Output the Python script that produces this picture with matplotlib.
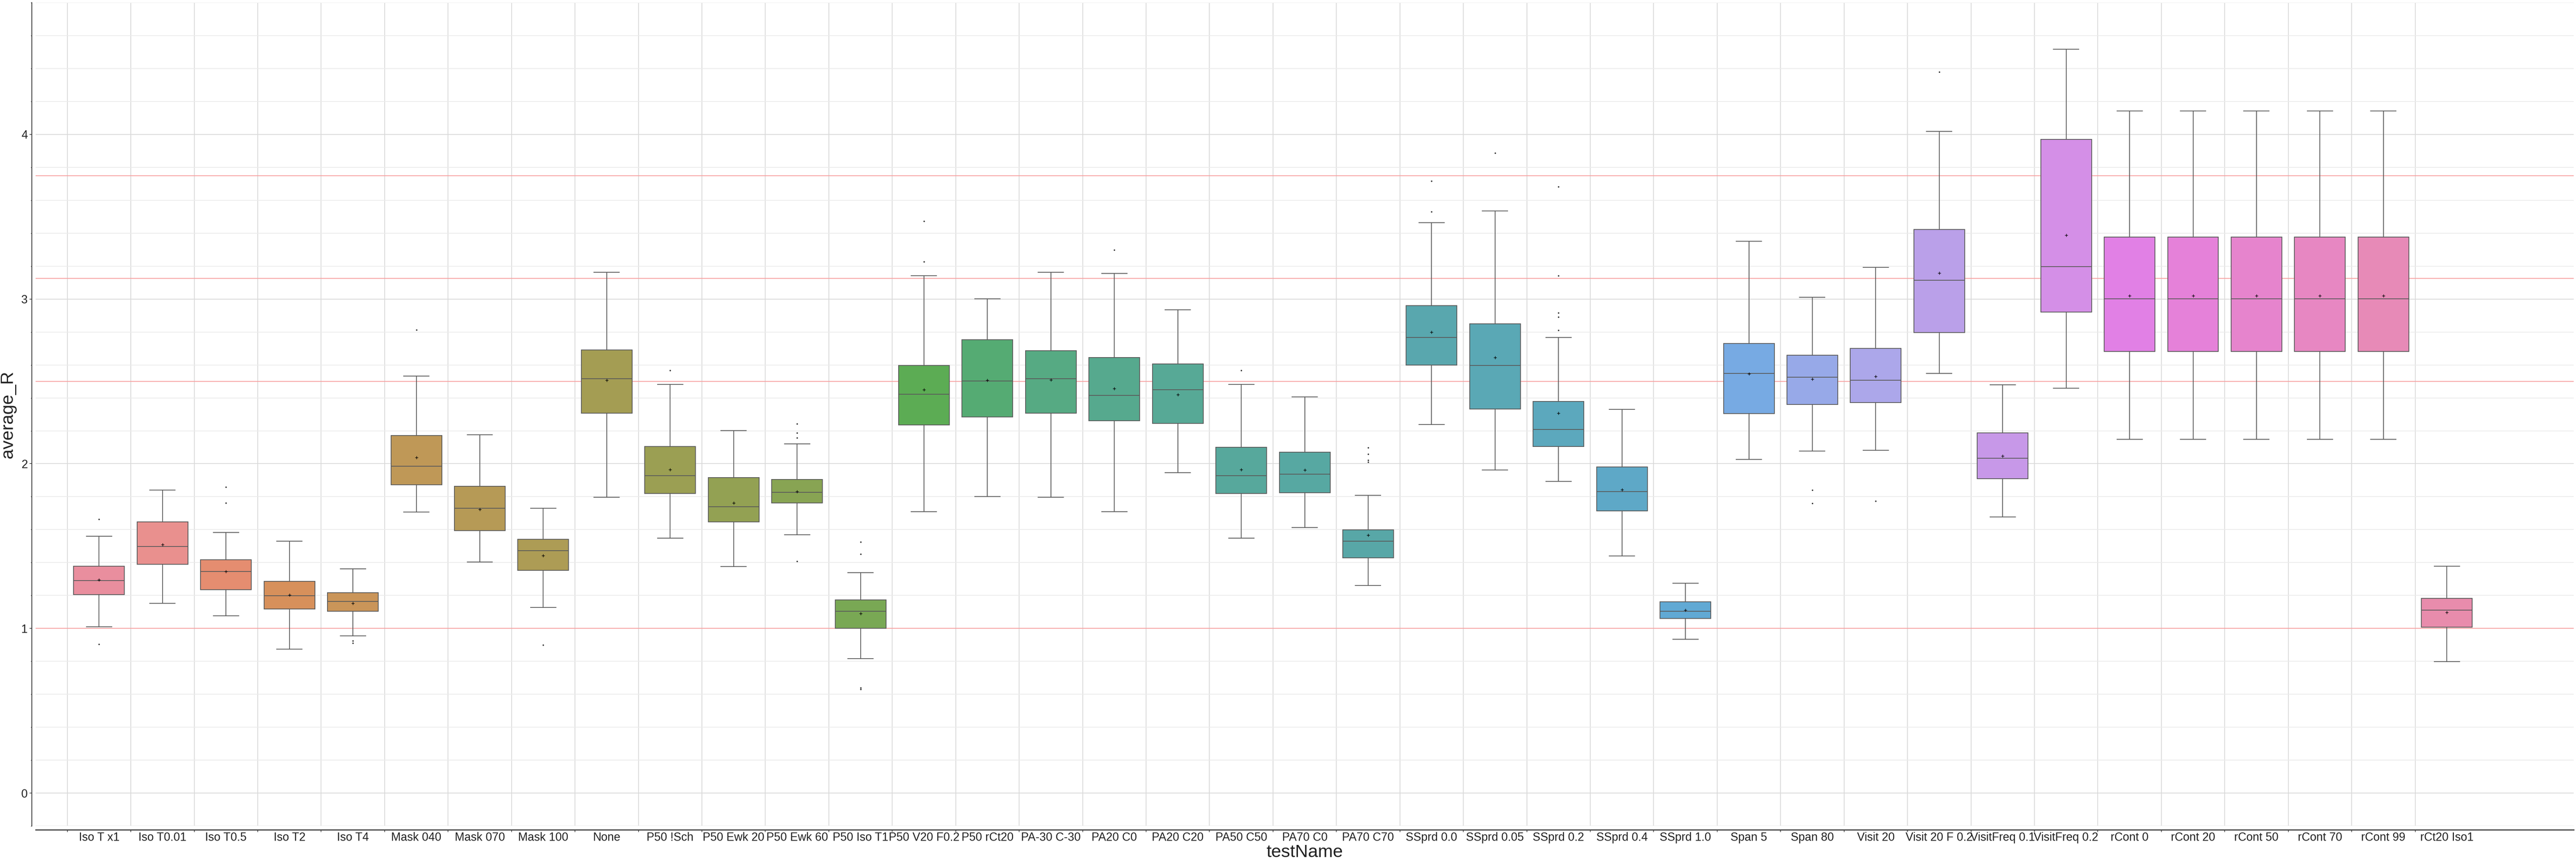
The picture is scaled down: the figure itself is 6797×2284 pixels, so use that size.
import numpy as np
import matplotlib
matplotlib.use("Agg")
import matplotlib.pyplot as plt
from matplotlib.ticker import MultipleLocator
import seaborn as sns

# Box statistics (one entry per testName)
categories = ["Iso T x1", "Iso T0.01", "Iso T0.5", "Iso T2", "Iso T4",
              "Mask 040", "Mask 070", "Mask 100", "None", "P50 !Sch",
              "P50 Ewk 20", "P50 Ewk 60", "P50 Iso T1", "P50 V20 F0.2", "P50 rCt20",
              "PA-30 C-30", "PA20 C0", "PA20 C20", "PA50 C50", "PA70 C0",
              "PA70 C70", "SSprd 0.0", "SSprd 0.05", "SSprd 0.2", "SSprd 0.4",
              "SSprd 1.0", "Span 5", "Span 80", "Visit 20", "Visit 20 F 0.2",
              "VisitFreq 0.1", "VisitFreq 0.2", "rCont 0", "rCont 20", "rCont 50",
              "rCont 70", "rCont 99", "rCt20 Iso1"]

whislo = [1.010, 1.152, 1.077, 0.874, 0.954, 1.706, 1.402, 1.127, 1.797, 1.549,
          1.375, 1.569, 0.816, 1.710, 1.800, 1.797, 1.710, 1.947, 1.549, 1.613,
          1.261, 2.238, 1.961, 1.894, 1.439, 0.933, 2.027, 2.078, 2.081, 2.549,
          1.676, 2.459, 2.148, 2.148, 2.148, 2.148, 2.148, 0.798]
q1 = [1.205, 1.389, 1.235, 1.118, 1.104, 1.873, 1.593, 1.352, 2.308, 1.820,
      1.646, 1.763, 1.000, 2.235, 2.285, 2.308, 2.262, 2.245, 1.820, 1.823,
      1.429, 2.600, 2.332, 2.104, 1.713, 1.061, 2.305, 2.359, 2.372, 2.797,
      1.910, 2.921, 2.683, 2.683, 2.683, 2.683, 2.683, 1.007]
median = [1.290, 1.497, 1.345, 1.198, 1.165, 1.984, 1.730, 1.472, 2.516, 1.927,
          1.740, 1.827, 1.104, 2.422, 2.503, 2.516, 2.416, 2.449, 1.927, 1.937,
          1.529, 2.767, 2.596, 2.208, 1.830, 1.104, 2.549, 2.526, 2.506, 3.115,
          2.034, 3.198, 3.001, 3.001, 3.001, 3.001, 3.001, 1.110]
q3 = [1.377, 1.648, 1.416, 1.286, 1.216, 2.171, 1.864, 1.542, 2.690, 2.104,
      1.917, 1.904, 1.174, 2.596, 2.753, 2.686, 2.646, 2.606, 2.101, 2.071,
      1.599, 2.961, 2.850, 2.379, 1.981, 1.161, 2.730, 2.660, 2.700, 3.423,
      2.188, 3.971, 3.376, 3.376, 3.376, 3.376, 3.376, 1.182]
whishi = [1.559, 1.839, 1.582, 1.529, 1.362, 2.533, 2.175, 1.730, 3.162, 2.482,
          2.201, 2.121, 1.338, 3.141, 3.001, 3.162, 3.155, 2.934, 2.482, 2.405,
          1.807, 3.463, 3.536, 2.767, 2.329, 1.275, 3.352, 3.011, 3.192, 4.018,
          2.479, 4.517, 4.142, 4.142, 4.142, 4.142, 4.142, 1.378]
means = [1.294, 1.509, 1.345, 1.204, 1.153, 2.037, 1.723, 1.442, 2.506, 1.964,
         1.763, 1.830, 1.091, 2.449, 2.506, 2.509, 2.456, 2.419, 1.964, 1.961,
         1.566, 2.800, 2.646, 2.308, 1.843, 1.111, 2.546, 2.513, 2.529, 3.158,
         2.048, 3.389, 3.021, 3.021, 3.021, 3.021, 3.021, 1.097]
outliers = [[1.662, 0.905], [], [1.859, 1.762], [], [0.925, 0.912],
            [2.814], [], [0.900], [], [2.566],
            [], [2.242, 2.188, 2.158, 1.408], [1.526, 1.452, 0.640, 0.630], [3.473, 3.228], [],
            [], [3.299], [], [2.566], [],
            [2.098, 2.058, 2.021, 2.010], [3.717, 3.530], [3.888], [3.683, 3.141, 2.917, 2.891, 2.810], [],
            [], [], [1.840, 1.760], [1.773], [4.379],
            [], [], [], [], [],
            [], [], []]

# reference levels drawn as horizontal lines
ref_levels = [1.0, 2.5, 3.125, 3.75]

plt.rcParams['font.family'] = ['Liberation Sans', 'DejaVu Sans']

fig = plt.figure(figsize=(67.97, 22.84), dpi=100)
ax = fig.add_axes([0.01383, 0.0451, 0.9853, 0.9518])

n = len(categories)
stats = []
for i in range(n):
    stats.append(dict(label=categories[i], whislo=whislo[i], q1=q1[i], med=median[i],
                      q3=q3[i], whishi=whishi[i], mean=means[i], fliers=outliers[i]))

line_col = '#5a5a5a'
lw = 1.5
bp = ax.bxp(stats, positions=np.arange(n), widths=0.8, patch_artist=True,
            showmeans=True, showfliers=True,
            boxprops=dict(edgecolor=line_col, linewidth=lw),
            medianprops=dict(color=line_col, linewidth=lw),
            whiskerprops=dict(color=line_col, linewidth=lw),
            capprops=dict(color=line_col, linewidth=lw),
            capwidths=0.4,
            meanprops=dict(marker='+', markeredgecolor='black', markerfacecolor='black',
                           markersize=6, markeredgewidth=1.0),
            flierprops=dict(marker='o', markerfacecolor='#333333', markeredgecolor='#333333',
                            markersize=1.8, linestyle='none'))

# husl hues, toned down a little like the reference
palette = sns.color_palette('husl', n)
for patch, c in zip(bp['boxes'], palette):
    d = np.array(sns.desaturate(c, 0.75))
    patch.set_facecolor(tuple(0.9 * d + 0.1))
for art in bp['boxes'] + bp['medians'] + bp['whiskers'] + bp['caps'] + bp['means'] + bp['fliers']:
    art.set_zorder(3)

for lvl in ref_levels:
    ax.axhline(lvl, color='#f7a1a1', linewidth=1.6, zorder=2)

ax.set_xlim(-1, 39)
ax.set_ylim(-0.2, 4.8)

# ticks at category boundaries, labels centred on the boxes
ax.set_xticks(np.arange(n) - 0.5)
ax.set_xticklabels([])
ax.set_xticks(np.arange(n), minor=True)
ax.set_xticklabels(categories, minor=True)
ax.tick_params(axis='x', which='minor', length=0, pad=4, labelsize=22, labelcolor='#222222')
ax.tick_params(axis='x', which='major', length=4, width=1.2, color='#333333')

ax.yaxis.set_major_locator(MultipleLocator(1))
ax.yaxis.set_minor_locator(MultipleLocator(0.2))
ax.tick_params(axis='y', which='major', length=4.5, width=1.2, color='#333333',
               labelsize=22, labelcolor='#222222')
ax.tick_params(axis='y', which='minor', length=2.5, width=1.0, color='#333333')

ax.grid(True, axis='x', which='major', color='#d9d9d9', linewidth=1.5, zorder=0)
ax.grid(True, axis='y', which='major', color='#d9d9d9', linewidth=1.5, zorder=0)
ax.grid(True, axis='y', which='minor', color='#ebebeb', linewidth=1.4, zorder=0)
ax.set_axisbelow(True)

for side in ['top', 'right']:
    ax.spines[side].set_visible(False)
ax.spines['left'].set_position(('outward', 7.2))
ax.spines['bottom'].set_position(('outward', 7.2))
ax.spines['left'].set_color('#333333')
ax.spines['bottom'].set_color('#333333')
ax.spines['left'].set_linewidth(1.5)
ax.spines['bottom'].set_linewidth(2.0)

ax.set_xlabel('testName', fontsize=34, color='#222222', labelpad=2)
ax.set_ylabel('average_R', fontsize=34, color='#222222', labelpad=9)

fig.savefig('out.png', dpi=100)
